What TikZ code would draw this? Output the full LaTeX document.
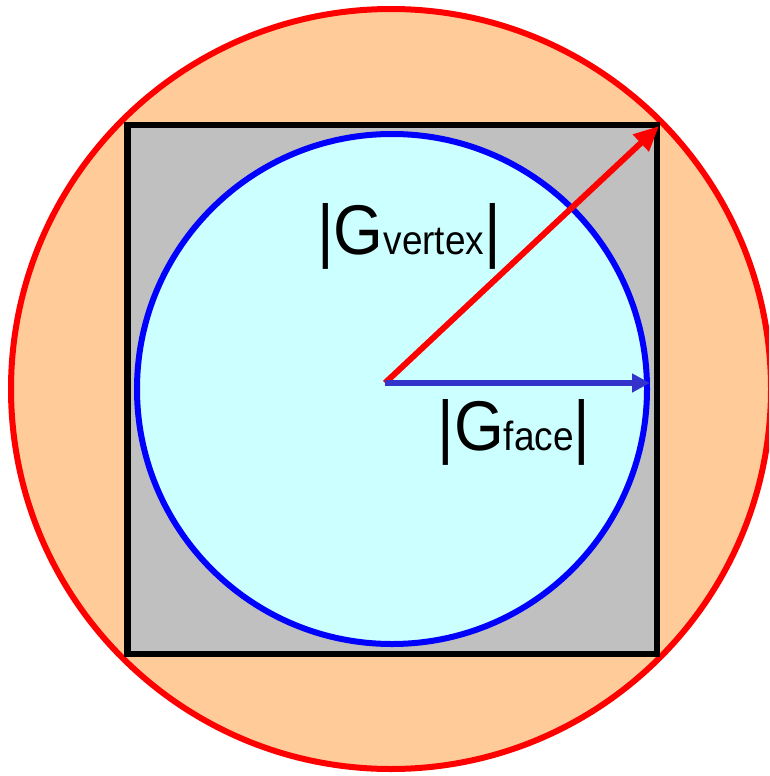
\documentclass[tikz,border=0pt]{standalone}
\usepackage{fontspec}
\setmainfont{Liberation Sans}
\usetikzlibrary{arrows.meta}
\definecolor{peach}{HTML}{FFCC99}
\definecolor{grayfill}{HTML}{C0C0C0}
\definecolor{cyanfill}{HTML}{CCFFFF}
\definecolor{arrowblue}{HTML}{3333CC}
\tikzset{
  outercirc/.style={draw=red, fill=peach, line width=6pt},
  sqbox/.style={draw=black, fill=grayfill, line width=6.5pt},
  innercirc/.style={draw=blue, fill=cyanfill, line width=6pt},
  redarrow/.style={draw=red, line width=6pt, -{Triangle[length=25pt,width=22pt]}},
  bluearrow/.style={draw=arrowblue, line width=5.5pt, -{Triangle[length=18pt,width=18pt]}},
  lbl/.style={anchor=base, inner sep=0pt, font=\fontsize{64}{64}\selectfont},
}
\newcommand{\subsz}{\fontsize{37}{37}\selectfont}
\begin{document}
\begin{tikzpicture}[x=1pt,y=-1pt]
\useasboundingbox (0,0) rectangle (769,776);
\begin{scope}
\clip (0,0) rectangle (769,776);
\draw[outercirc] (391,389) circle (380);
\end{scope}
\draw[sqbox] (127.5,125) rectangle (657,654);
\draw[innercirc] (392,389) circle (255);
\coordinate (c) at (385,383);
\coordinate (v) at (659,126);
\coordinate (f) at (650,383);
\draw[redarrow] (c) -- (v);
\draw[bluearrow] (c) -- (f);
\node[lbl] (lv) at (409,254) {\scalebox{1}[1.1]{|G{\subsz vertex}|}};
\node[lbl] (lf) at (514,450) {\scalebox{1}[1.1]{|G{\subsz face}|}};
\end{tikzpicture}
\end{document}
